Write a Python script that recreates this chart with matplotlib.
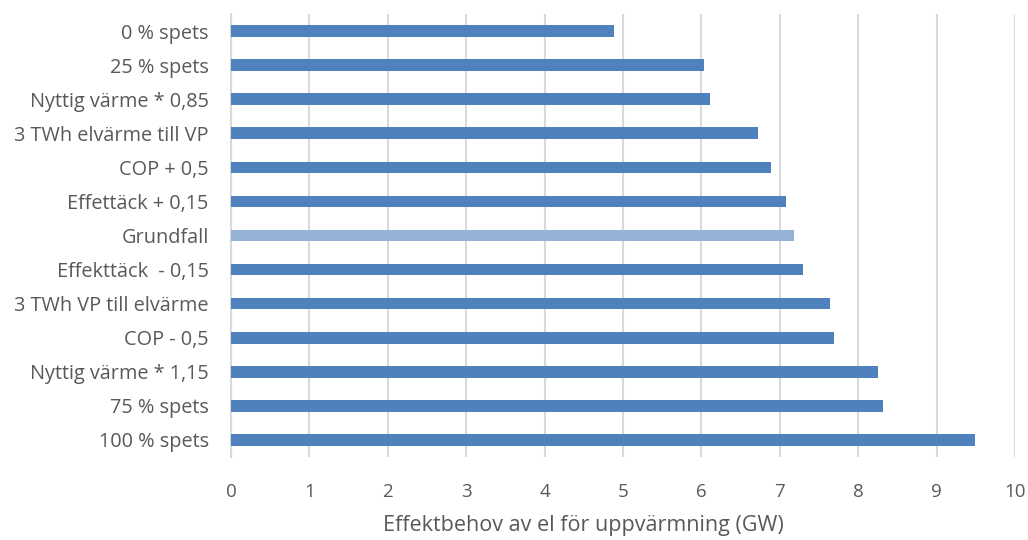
import matplotlib
matplotlib.use("Agg")
import matplotlib.pyplot as plt

# Scenario labels, top to bottom
categories = [
    "0 % spets",
    "25 % spets",
    "Nyttig värme * 0,85",
    "3 TWh elvärme till VP",
    "COP + 0,5",
    "Effettäck + 0,15",
    "Grundfall",
    "Effekttäck  - 0,15",
    "3 TWh VP till elvärme",
    "COP - 0,5",
    "Nyttig värme * 1,15",
    "75 % spets",
    "100 % spets",
]
# Power demand for heating (GW)
values = [4.88, 6.03, 6.11, 6.72, 6.89, 7.08, 7.18, 7.30, 7.64, 7.69, 8.25, 8.32, 9.49]
base_case = "Grundfall"
x_ticks = list(range(0, 11))

plt.rcParams["font.family"] = ["Open Sans", "DejaVu Sans"]

fig = plt.figure(figsize=(10.28, 5.4), dpi=100)
ax = fig.add_axes([0.2247, 0.1537, 0.7627, 0.8204])

colors = ["#95B3D7" if c == base_case else "#4F81BD" for c in categories]
ypos = list(range(len(categories)))
ax.barh(ypos, values, height=0.34, color=colors, zorder=3)

ax.set_ylim(len(categories) - 0.5, -0.5)
ax.set_yticks(ypos)
ax.set_yticklabels(categories, fontsize=14.3, color="#595959")

ax.set_xlim(0, 10)
ax.set_xticks(x_ticks)
ax.set_xticklabels([str(t) for t in x_ticks], fontsize=13.5, color="#595959")
ax.xaxis.grid(True, color="#D9D9D9", linewidth=1.5, zorder=0)
ax.tick_params(axis="both", length=0)
ax.tick_params(axis="y", pad=16)
ax.tick_params(axis="x", pad=19)

for side in ["top", "right", "bottom"]:
    ax.spines[side].set_visible(False)
ax.spines["left"].set_color("#D9D9D9")
ax.spines["left"].set_linewidth(1.5)

ax.set_xlabel("Effektbehov av el för uppvärmning (GW)", fontsize=15.5,
              color="#595959")
ax.xaxis.set_label_coords(0.45, -0.13)

fig.savefig("out.png", dpi=100)
